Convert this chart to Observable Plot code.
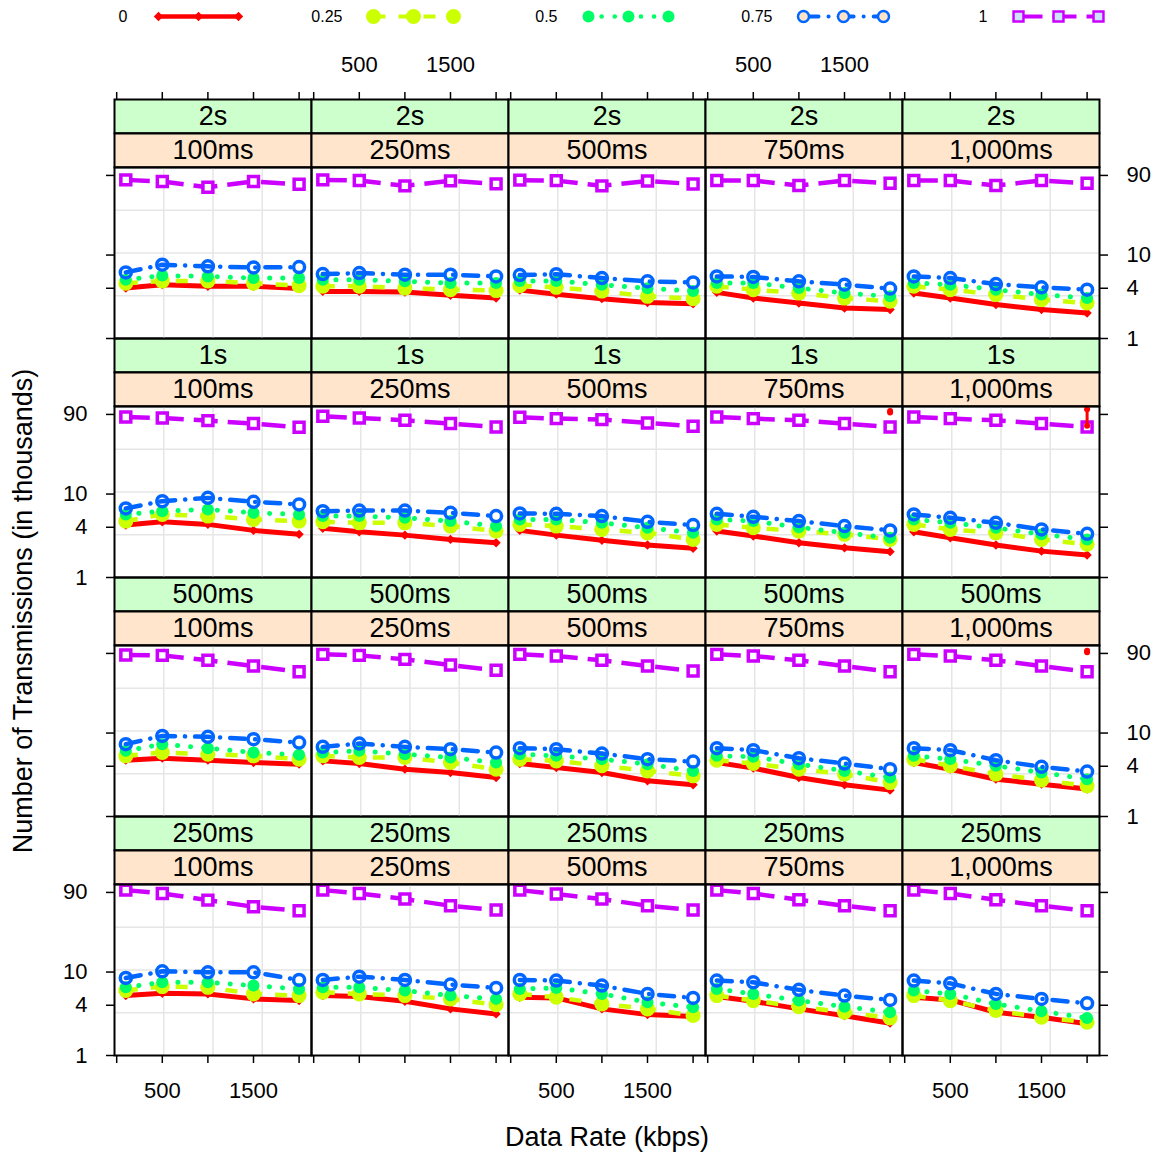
<!DOCTYPE html>
<html><head><meta charset="utf-8">
<script src="https://cdn.jsdelivr.net/npm/d3@7"></script>
<script src="https://cdn.jsdelivr.net/npm/@observablehq/plot@0.6"></script>
<style>
body{margin:0;background:#fff;font-family:"Liberation Sans",Arial,sans-serif;}
#legend,#chart{display:block;line-height:0;}
</style></head><body>
<div id="legend"></div><div id="chart"></div>
<script>
// ---------- data ----------
const rowLevels = ["2s", "1s", "500ms", "250ms"];
const colLevels = ["100ms", "250ms", "500ms", "750ms", "1,000ms"];
const rates = [100, 500, 1000, 1500, 2000];
const seriesNames = ["0", "0.25", "0.5", "0.75", "1"];
const seriesColors = ["#FF0000", "#CCFF00", "#00FF66", "#0066FF", "#CC00FF"];
const xTicks = [0, 500, 1000, 1500, 2000];
const xTickLabels = [500, 1500];
const yTicks = [1, 4, 10, 90];

// values per panel (row-major: 2s row cols 100ms..1,000ms, then 1s, 500ms, 250ms), 5 data rates each
const loss0 = [
  [4.02, 4.42, 4.22, 4.22, 3.96], [3.67, 3.67, 3.60, 3.29, 3.05], [3.80, 3.40, 3.00, 2.70, 2.60], [3.57, 3.05, 2.66, 2.32, 2.22], [3.50, 3.05, 2.55, 2.22, 2.02],
  [4.25, 4.65, 4.33, 3.67, 3.29], [3.88, 3.53, 3.22, 2.86, 2.61], [3.67, 3.22, 2.79, 2.45, 2.24], [3.60, 3.14, 2.61, 2.27, 2.04], [3.53, 2.99, 2.45, 2.07, 1.86],
  [4.73, 5.00, 4.73, 4.43, 4.24], [4.64, 4.31, 3.69, 3.37, 2.93], [4.31, 3.86, 3.37, 2.68, 2.40], [4.43, 3.80, 2.93, 2.40, 2.07], [4.43, 3.69, 2.80, 2.44, 2.13],
  [5.22, 5.56, 5.47, 4.77, 4.55], [5.22, 5.08, 4.46, 3.62, 3.15], [4.98, 4.90, 3.62, 3.09, 2.93], [5.08, 4.46, 3.62, 3.00, 2.44], [4.98, 4.63, 3.30, 2.87, 2.40]
];
const loss25 = [
  [4.60, 4.90, 4.90, 4.60, 4.30], [4.22, 4.22, 4.02, 3.85, 3.75], [4.30, 4.10, 3.70, 3.20, 3.00], [4.22, 3.85, 3.50, 3.05, 2.79], [4.22, 3.85, 3.36, 2.92, 2.66],
  [4.74, 5.70, 5.44, 4.97, 4.74], [4.65, 4.52, 4.52, 4.13, 3.60], [4.33, 4.13, 3.77, 3.43, 2.86], [4.33, 3.94, 3.60, 3.29, 2.86], [4.33, 3.77, 3.43, 2.86, 2.50],
  [5.33, 5.84, 5.58, 5.33, 4.87], [5.33, 5.10, 5.10, 4.43, 3.69], [4.87, 4.64, 4.05, 3.52, 3.07], [4.73, 4.31, 3.69, 3.22, 2.55], [4.87, 4.05, 3.22, 2.73, 2.33],
  [6.00, 6.69, 6.56, 5.47, 5.22], [5.72, 5.47, 5.22, 4.77, 4.07], [5.47, 5.00, 4.15, 3.62, 3.01], [5.22, 4.55, 3.85, 3.30, 2.82], [5.22, 4.55, 3.45, 2.87, 2.50]
];
const loss50 = [
  [5.07, 5.67, 5.55, 5.30, 5.30], [5.07, 5.07, 4.84, 4.62, 4.62], [4.90, 4.90, 4.40, 4.00, 3.70], [4.62, 4.62, 4.02, 3.50, 3.20], [4.62, 4.42, 3.85, 3.36, 3.05],
  [5.70, 6.24, 6.54, 5.96, 5.70], [5.44, 5.44, 5.20, 4.74, 4.13], [4.97, 4.97, 4.52, 3.94, 3.43], [4.97, 4.74, 4.00, 3.43, 2.99], [4.97, 4.52, 3.94, 3.29, 2.86],
  [6.12, 7.36, 6.59, 5.84, 5.48], [5.84, 6.12, 5.58, 5.10, 4.43], [5.58, 5.33, 4.87, 4.24, 3.52], [5.33, 5.20, 4.24, 3.52, 2.93], [5.33, 4.87, 4.05, 3.37, 2.80],
  [6.56, 7.53, 7.53, 6.88, 6.28], [6.56, 6.56, 6.00, 5.22, 4.77], [6.28, 6.45, 5.47, 4.35, 3.78], [6.28, 5.47, 4.55, 3.85, 3.30], [6.00, 5.47, 4.15, 3.39, 2.82]
];
const loss75 = [
  [6.20, 7.66, 7.32, 7.11, 7.17], [5.92, 6.08, 5.82, 5.82, 5.55], [5.75, 5.90, 5.30, 4.84, 4.70], [5.55, 5.47, 4.84, 4.42, 3.96], [5.55, 5.30, 4.49, 4.10, 3.85],
  [6.73, 8.22, 9.00, 8.07, 7.51], [6.24, 6.35, 6.35, 5.96, 5.44], [5.86, 5.80, 5.44, 4.65, 4.25], [5.80, 5.34, 4.74, 4.13, 3.67], [5.70, 5.20, 4.52, 3.77, 3.34],
  [7.36, 9.25, 9.00, 8.44, 7.69], [6.83, 7.48, 6.83, 6.41, 5.84], [6.59, 6.41, 5.68, 4.87, 4.55], [6.59, 6.24, 5.00, 4.31, 3.69], [6.59, 6.24, 4.73, 3.94, 3.46],
  [8.50, 10.2, 9.92, 9.92, 8.05], [8.05, 8.81, 8.05, 7.07, 6.45], [8.05, 7.91, 6.88, 5.47, 4.90], [7.91, 7.53, 6.12, 5.22, 4.63], [7.91, 7.32, 5.47, 4.77, 4.22]
];
const loss100 = [
  [79.6, 76.0, 64.9, 76.0, 70.5], [79.6, 78.2, 67.5, 77.5, 71.3], [79.0, 78.0, 67.5, 77.0, 71.0], [78.2, 78.2, 68.0, 78.2, 72.6], [78.2, 78.2, 68.0, 78.2, 72.6],
  [83.8, 81.5, 75.9, 69.9, 63.1], [85.5, 81.5, 76.5, 69.9, 63.6], [83.2, 80.2, 78.0, 71.1, 64.9], [83.8, 80.2, 76.6, 69.9, 63.6], [83.8, 80.2, 76.6, 69.9, 63.6],
  [86.1, 85.3, 74.4, 63.6, 54.3], [87.7, 85.3, 76.4, 65.3, 56.5], [87.7, 84.0, 74.4, 63.6, 55.5], [87.7, 84.0, 74.4, 63.6, 54.3], [87.7, 84.0, 74.4, 63.6, 54.3],
  [95.9, 87.4, 72.8, 60.6, 54.3], [95.9, 87.4, 74.9, 62.3, 55.3], [95.9, 86.0, 74.9, 62.3, 55.3], [95.9, 87.4, 73.5, 62.3, 54.3], [95.9, 87.4, 73.5, 62.3, 54.3]
];
// red interval marks near the top of some panels
const errRows = ["1s", "1s", "500ms"];
const errCols = ["750ms", "1,000ms", "1,000ms"];
const errRate = [2000, 2000, 2000];
const errLow = [95, 66, 93];
const errHigh = [99, 104, 97];

// ---------- build table ----------
const allSeries = [loss0, loss25, loss50, loss75, loss100];
const table = [];
allSeries.forEach((arr, k) => arr.forEach((vals, p) => vals.forEach((v, m) => table.push({
  series: seriesNames[k], row: rowLevels[Math.floor(p / colLevels.length)], col: colLevels[p % colLevels.length], rate: rates[m], value: v
}))));
const errData = errRows.map((r, i) => ({row: r, col: errCols[i], rate: errRate[i], lo: errLow[i], hi: errHigh[i]}));

// ---------- styles ----------
const styles = [
  {dash: null, width: 5, cap: "butt", symbol: "diamond2", r: 4.2, fill: seriesColors[0], stroke: "none", sw: 0},
  {dash: "12,13", width: 4.5, cap: "butt", symbol: "circle", r: 7.5, fill: seriesColors[1], stroke: "none", sw: 0},
  {dash: "0.1,13", width: 5, cap: "round", symbol: "circle", r: 6, fill: seriesColors[2], stroke: "none", sw: 0},
  {dash: "15,10,0.1,10", width: 4.5, cap: "round", symbol: "circle", r: 5.5, fill: "none", stroke: seriesColors[3], sw: 3.5},
  {dash: "24,10", width: 4.5, cap: "butt", symbol: "square", r: 5.6, fill: "white", stroke: seriesColors[4], sw: 3.5}
];
const legendFill = [null, null, null, "#FDE3C7", "#CCE5FF"];

// ---------- legend ----------
const legendPts = seriesNames.flatMap(s => [0, 1, 2].map(i => ({series: s, i})));
const legendMarks = [];
seriesNames.forEach((s, k) => {
  const st = styles[k];
  const pts = legendPts.filter(d => d.series === s);
  legendMarks.push(Plot.line(pts, {fx: "series", x: "i", y: () => 0, stroke: seriesColors[k], strokeWidth: st.width - 0.5, strokeDasharray: st.dash, strokeLinecap: st.cap}));
  legendMarks.push(Plot.dot(pts, {fx: "series", x: "i", y: () => 0, symbol: st.symbol, r: st.r,
    fill: legendFill[k] || st.fill, stroke: st.stroke, strokeWidth: st.sw * 0.7}));
});
legendMarks.push(Plot.text(seriesNames.map(s => ({series: s})), {fx: "series", x: () => 0, y: () => 0, text: "series", dx: -31, textAnchor: "end", lineAnchor: "middle", fontSize: 16}));
const legend = Plot.plot({
  width: 1159, height: 32, marginLeft: 23, marginRight: 61, marginTop: 0, marginBottom: 0,
  style: {fontFamily: "Liberation Sans, Arial, sans-serif", color: "black", background: "white"},
  fx: {domain: seriesNames, padding: 0, axis: null},
  x: {domain: [0, 2], insetLeft: 135, axis: null},
  y: {domain: [-1, 1], axis: null},
  marks: legendMarks
});
document.getElementById("legend").appendChild(legend);

// ---------- main chart ----------
const W = 1159, H = 1123, mL = 113, mR = 60, mT = 66, mB = 100;
const cellH = (H - mT - mB) / rowLevels.length;
const stripH = 34;
const xDomain = [-24, 2136];
const yDomain = [1, 112];
const xGrid = [1, 2, 3].map(i => xDomain[0] + i * (xDomain[1] - xDomain[0]) / 4);
const yGrid = [1, 2, 3].map(i => Math.pow(10, i * Math.log10(yDomain[1]) / 4));
const cells = rowLevels.flatMap(row => colLevels.map(col => ({row, col})));

const marks = [
  Plot.frame({fill: "#CCFFCC", stroke: "black", strokeWidth: 2, insetBottom: cellH - stripH}),
  Plot.frame({fill: "#FFE5CC", stroke: "black", strokeWidth: 2, insetTop: stripH, insetBottom: cellH - 2 * stripH}),
  Plot.gridX(xGrid, {stroke: "#E6E6E6", strokeOpacity: 1, strokeWidth: 1.5, insetTop: 2 * stripH}),
  Plot.gridY(yGrid, {stroke: "#E6E6E6", strokeOpacity: 1, strokeWidth: 1.5}),
  Plot.text(cells, {fx: "col", fy: "row", text: "row", frameAnchor: "top", lineAnchor: "middle", dy: stripH / 2, fontSize: 27}),
  Plot.text(cells, {fx: "col", fy: "row", text: "col", frameAnchor: "top", lineAnchor: "middle", dy: stripH * 1.5, fontSize: 27})
];
seriesNames.forEach((s, k) => {
  const st = styles[k];
  const d = table.filter(r => r.series === s);
  marks.push(Plot.line(d, {fx: "col", fy: "row", x: "rate", y: "value", stroke: seriesColors[k], strokeWidth: st.width, strokeDasharray: st.dash, strokeLinecap: st.cap}));
  marks.push(Plot.dot(d, {fx: "col", fy: "row", x: "rate", y: "value", symbol: st.symbol, r: st.r, fill: st.fill, stroke: st.stroke, strokeWidth: st.sw}));
});
marks.push(
  Plot.ruleX(errData, {fx: "col", fy: "row", x: "rate", y1: "lo", y2: "hi", stroke: seriesColors[0], strokeWidth: 3}),
  Plot.dot(errData, {fx: "col", fy: "row", x: "rate", y: "lo", r: 3, fill: seriesColors[0]}),
  Plot.dot(errData, {fx: "col", fy: "row", x: "rate", y: "hi", r: 3, fill: seriesColors[0]}),
  Plot.frame({insetTop: 2 * stripH, stroke: "black", strokeWidth: 2}),
  Plot.axisX(xTicks, {anchor: "bottom", facetAnchor: "bottom", tickSize: 8, strokeWidth: 1.5, fill: "none", label: null}),
  Plot.axisX(xTicks, {anchor: "top", facetAnchor: "top", tickSize: 8, strokeWidth: 1.5, fill: "none", label: null}),
  Plot.axisY(yTicks, {anchor: "left", facetAnchor: "left", tickSize: 8, strokeWidth: 1.5, fill: "none", label: null}),
  Plot.axisY(yTicks, {anchor: "right", facetAnchor: "right", tickSize: 8, strokeWidth: 1.5, fill: "none", label: null}),
  Plot.text([0, 2, 4].flatMap(i => xTickLabels.map(v => ({row: rowLevels[3], col: colLevels[i], v}))),
    {fx: "col", fy: "row", x: "v", text: d => String(d.v), frameAnchor: "bottom", lineAnchor: "middle", dy: 35, fontSize: 22}),
  Plot.text([1, 3].flatMap(i => xTickLabels.map(v => ({row: rowLevels[0], col: colLevels[i], v}))),
    {fx: "col", fy: "row", x: "v", text: d => String(d.v), frameAnchor: "top", lineAnchor: "middle", dy: -35, fontSize: 22}),
  Plot.text([1, 3].flatMap(r => yTicks.map(v => ({row: rowLevels[r], col: colLevels[0], v}))),
    {fx: "col", fy: "row", y: "v", text: d => String(d.v), frameAnchor: "left", lineAnchor: "middle", dx: -27, textAnchor: "end", fontSize: 22}),
  Plot.text([0, 2].flatMap(r => yTicks.map(v => ({row: rowLevels[r], col: colLevels[4], v}))),
    {fx: "col", fy: "row", y: "v", text: d => String(d.v), frameAnchor: "right", lineAnchor: "middle", dx: 27, textAnchor: "start", fontSize: 22}),
  Plot.text([{row: rowLevels[3], col: colLevels[2], t: "Data Rate (kbps)"}],
    {fx: "col", fy: "row", text: "t", frameAnchor: "bottom", lineAnchor: "middle", dy: 82, fontSize: 27}),
  Plot.text([{row: rowLevels[2], col: colLevels[0], t: "Number of Transmissions (in thousands)"}],
    {fx: "col", fy: "row", text: "t", frameAnchor: "top-left", textAnchor: "middle", lineAnchor: "middle", dx: -91, dy: 33.5, rotate: -90, fontSize: 27})
);

const chart = Plot.plot({
  width: W, height: H, marginLeft: mL, marginRight: mR, marginTop: mT, marginBottom: mB,
  style: {fontFamily: "Liberation Sans, Arial, sans-serif", color: "black", background: "white", fontSize: "22px"},
  fx: {domain: colLevels, padding: 0, axis: null},
  fy: {domain: rowLevels, padding: 0, axis: null},
  x: {domain: xDomain, axis: null},
  y: {type: "log", domain: yDomain, insetTop: 2 * stripH, axis: null},
  marks
});
document.getElementById("chart").appendChild(chart);
</script></body></html>
